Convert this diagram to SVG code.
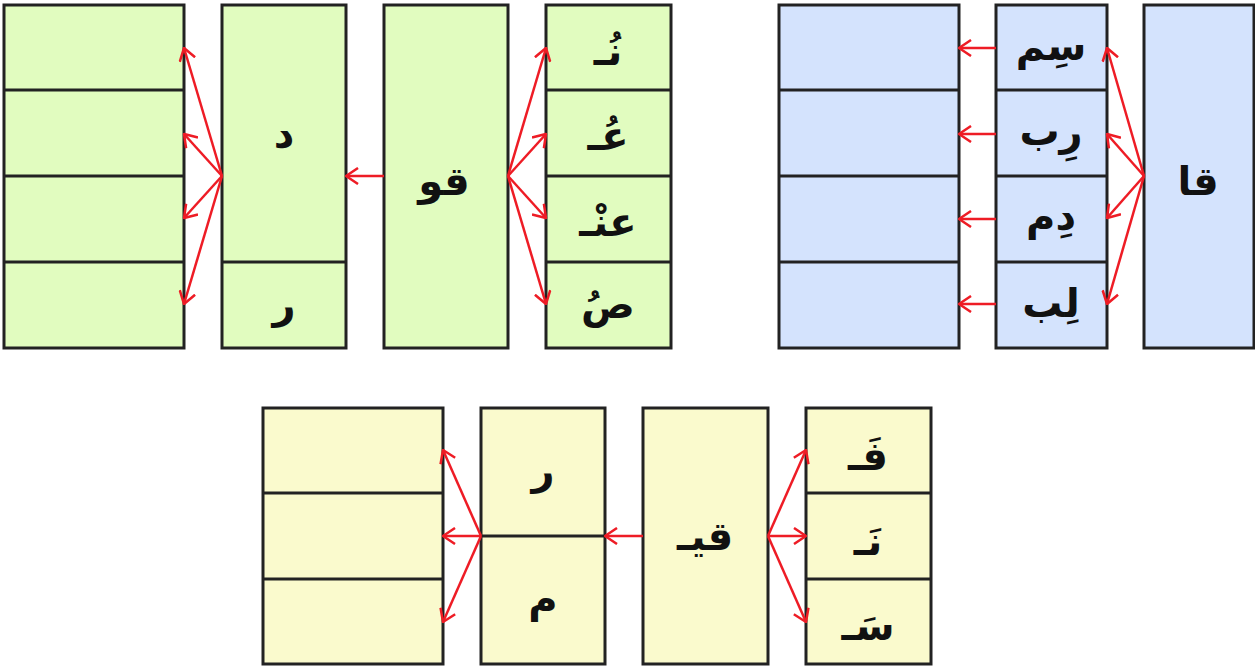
<svg xmlns="http://www.w3.org/2000/svg" width="1255" height="666" viewBox="0 0 1255 666">
<style>
.g{fill:#e1fcbf}.b{fill:#d4e3fd}.y{fill:#fafacd}
rect{stroke:#222;stroke-width:3}
.d{stroke:#222;stroke-width:3}
text{font-family:"DejaVu Sans",sans-serif;font-weight:bold;font-size:40px;fill:#111;text-anchor:middle}
.c line{stroke:#ee1c25;stroke-width:2.5;marker-end:url(#ah)}
</style>
<defs>
<marker id="ah" markerUnits="userSpaceOnUse" viewBox="0 0 14 18" refX="13" refY="9" markerWidth="14" markerHeight="18" orient="auto">
<path d="M1,1 L13,9 L1,17" fill="none" stroke="#ee1c25" stroke-width="2.5"/>
</marker>
</defs>
<rect width="1255" height="666" fill="#fff" style="stroke:none"/>

<g id="boxA"><rect class="g" x="4" y="5" width="180" height="343"/>
<line class="d" x1="4" y1="90" x2="184" y2="90"/><line class="d" x1="4" y1="176" x2="184" y2="176"/><line class="d" x1="4" y1="262" x2="184" y2="262"/></g>
<g id="boxB"><rect class="g" x="222" y="5" width="124" height="343"/>
<line class="d" x1="222" y1="262" x2="346" y2="262"/>
<text x="284" y="148">د</text><text x="284" y="318">ر</text></g>
<g id="boxC"><rect class="g" x="384" y="5" width="124" height="343"/>
<text x="444" y="195">قو</text></g>
<g id="boxD"><rect class="g" x="546" y="5" width="125" height="343"/>
<line class="d" x1="546" y1="90" x2="671" y2="90"/><line class="d" x1="546" y1="176" x2="671" y2="176"/><line class="d" x1="546" y1="262" x2="671" y2="262"/>
<text x="608" y="65">نُـ</text><text x="608" y="150">عُـ</text><text x="608" y="236">عنْـ</text><text x="608" y="318">صُ</text></g>

<g id="boxE"><rect class="b" x="779" y="5" width="180" height="343"/>
<line class="d" x1="779" y1="90" x2="959" y2="90"/><line class="d" x1="779" y1="176" x2="959" y2="176"/><line class="d" x1="779" y1="262" x2="959" y2="262"/></g>
<g id="boxF"><rect class="b" x="996" y="5" width="111" height="343"/>
<line class="d" x1="996" y1="90" x2="1107" y2="90"/><line class="d" x1="996" y1="176" x2="1107" y2="176"/><line class="d" x1="996" y1="262" x2="1107" y2="262"/>
<text x="1051" y="60">سِم</text><text x="1051" y="145">رِب</text><text x="1051" y="230">دِم</text><text x="1051" y="317">لِب</text></g>
<g id="boxG"><rect class="b" x="1144" y="5" width="110" height="343"/>
<text x="1198" y="195">قا</text></g>

<g id="boxH"><rect class="y" x="263" y="408" width="180" height="256"/>
<line class="d" x1="263" y1="493" x2="443" y2="493"/><line class="d" x1="263" y1="579" x2="443" y2="579"/></g>
<g id="boxI"><rect class="y" x="481" y="408" width="124" height="256"/>
<line class="d" x1="481" y1="536" x2="605" y2="536"/>
<text x="543" y="484">ر</text><text x="543" y="612">م</text></g>
<g id="boxJ"><rect class="y" x="643" y="408" width="125" height="256"/>
<text x="705" y="550">قيـ</text></g>
<g id="boxK"><rect class="y" x="806" y="408" width="125" height="256"/>
<line class="d" x1="806" y1="493" x2="931" y2="493"/><line class="d" x1="806" y1="579" x2="931" y2="579"/>
<text x="868" y="470">فَـ</text><text x="868" y="555">نَـ</text><text x="868" y="640">سَـ</text></g>

<g id="connectors" class="c">
<line x1="222" y1="176" x2="184" y2="48"/><line x1="222" y1="176" x2="184" y2="134"/><line x1="222" y1="176" x2="184" y2="218"/><line x1="222" y1="176" x2="184" y2="304"/>
<line x1="384" y1="176" x2="346" y2="176"/>
<line x1="508" y1="176" x2="546" y2="48"/><line x1="508" y1="176" x2="546" y2="134"/><line x1="508" y1="176" x2="546" y2="218"/><line x1="508" y1="176" x2="546" y2="304"/>
<line x1="996" y1="48" x2="959" y2="48"/><line x1="996" y1="134" x2="959" y2="134"/><line x1="996" y1="219" x2="959" y2="219"/><line x1="996" y1="304" x2="959" y2="304"/>
<line x1="1144" y1="176" x2="1107" y2="48"/><line x1="1144" y1="176" x2="1107" y2="134"/><line x1="1144" y1="176" x2="1107" y2="218"/><line x1="1144" y1="176" x2="1107" y2="304"/>
<line x1="481" y1="536" x2="443" y2="450"/><line x1="481" y1="536" x2="443" y2="536"/><line x1="481" y1="536" x2="443" y2="622"/>
<line x1="643" y1="536" x2="605" y2="536"/>
<line x1="768" y1="536" x2="806" y2="450"/><line x1="768" y1="536" x2="806" y2="536"/><line x1="768" y1="536" x2="806" y2="622"/>
</g>
</svg>
